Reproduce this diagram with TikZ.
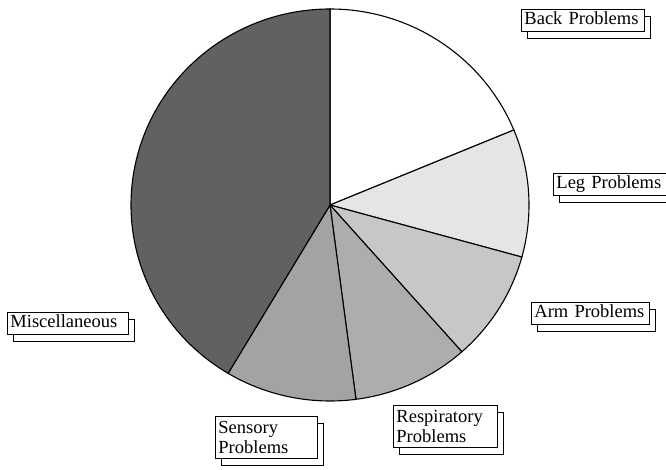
\documentclass[tikz,border=0pt]{standalone}
\usepackage{fontspec}
\setmainfont{Liberation Serif}
\usetikzlibrary{shadows}

\tikzset{
  lbl/.style={draw, fill=white, line width=0.9pt, anchor=north west, align=left,
    inner xsep=3pt, inner ysep=2pt, font=\fontsize{18.5}{19.5}\selectfont,
    shadow xshift=6pt, shadow yshift=-7pt,
    general shadow={shadow xshift=6pt, shadow yshift=-7pt, draw, fill=white}},
  oneline/.style={lbl, text height=13.5pt, text depth=4.5pt},
  twoline/.style={lbl, minimum height=42pt},
  slice/.style={draw, line width=1.1pt}
}

\begin{document}
\begin{tikzpicture}[x=1pt, y=1pt]
\useasboundingbox (0,0) rectangle (666,469);
\coordinate (ctr) at (330,264);
% pie slices
\foreach \s/\e/\g in {22.5/90/white, -15.4/22.5/black!10, -48.5/-15.4/black!22,
    -82.5/-48.5/black!32, -120.8/-82.5/black!36, 90/239.2/black!62}
  \filldraw[slice, fill=\g] (ctr) -- ++(\s:199 and 196)
    arc[start angle=\s, end angle=\e, x radius=199, y radius=196] -- cycle;
% labels
\node[oneline, text width=117pt] (back) at (521,460) {\mbox{Back Problems}};
\node[oneline, text width=107pt] (leg) at (553,296) {\mbox{Leg Problems}};
\node[oneline, text width=112pt] (arm) at (531,167) {\mbox{Arm Problems}};
\node[twoline, text width=98pt] (resp) at (393,64) {Respiratory\\Problems};
\node[twoline, text width=96pt] (sens) at (215,53) {Sensory\\Problems};
\node[oneline, text width=115pt] (misc) at (7,157) {\mbox{Miscellaneous}};
\end{tikzpicture}
\end{document}
